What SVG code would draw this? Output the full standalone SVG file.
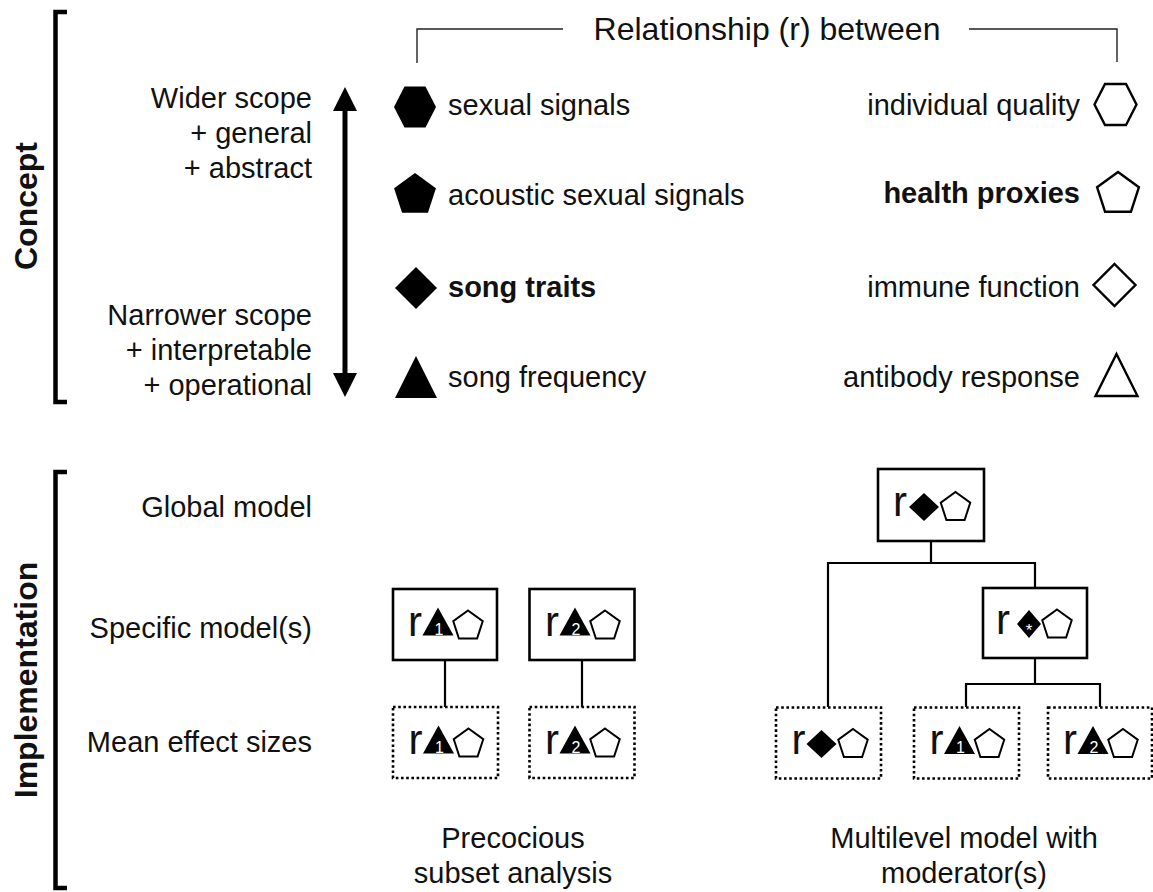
<svg xmlns="http://www.w3.org/2000/svg" xmlns:xlink="http://www.w3.org/1999/xlink" width="1153" height="892" viewBox="0 0 1153 892">
<style>
.t{font-family:"Liberation Sans",Arial,sans-serif;font-size:29px;fill:#111}
.b{font-weight:bold}
.lbl{font-family:"Liberation Sans",Arial,sans-serif;font-size:32px;font-weight:bold;fill:#111}
.r{font-family:"Liberation Sans",Arial,sans-serif;font-size:42px;fill:#111}
.num{font-family:"Liberation Sans",Arial,sans-serif;font-size:16px;fill:#fff;text-anchor:middle}
.box{fill:#fff;stroke:#000;stroke-width:2.6}
.dot{fill:#fff;stroke:#000;stroke-width:2.6;stroke-dasharray:2.6 2.6}
.con{fill:none;stroke:#000;stroke-width:2.2}
.hdr{fill:none;stroke:#222;stroke-width:1.4}
.brk{fill:none;stroke:#000;stroke-width:4.5}
.fill{fill:#000}
.open{fill:#fff;stroke:#000;stroke-width:2.4;stroke-linejoin:miter}
.po{fill:#fff;stroke:#000;stroke-width:2}
</style>
<defs>
<polygon id="hexL" points="-21,0 -10.5,-20.5 10.5,-20.5 21,0 10.5,20.5 -10.5,20.5"/>
<polygon id="pentL" points="0,-22 20.92,-6.8 12.93,17.8 -12.93,17.8 -20.92,-6.8"/>
<polygon id="diaL" points="0,-21 21,0 0,21 -21,0"/>
<polygon id="triL" points="0,-21 21,21 -21,21"/>
<polygon id="pentS" points="0,-15.5 14.74,-4.79 9.11,12.54 -9.11,12.54 -14.74,-4.79"/>
<polygon id="triS" points="0,-14 15.5,14 -15.5,14"/>
<polygon id="diaS" points="0,-14 15,0 0,14 -15,0"/>
<polygon id="diaM" points="0,-14 12,0 0,14 -12,0"/>
</defs>

<g id="concept-bracket">
<path class="brk" d="M67,12 H55.5 V402 H67"/>
<text class="lbl" transform="translate(37,206) rotate(-90)" text-anchor="middle">Concept</text>
</g>

<g id="implementation-bracket">
<path class="brk" d="M67,472 H55.5 V888 H67"/>
<text class="lbl" transform="translate(37,680) rotate(-90)" text-anchor="middle">Implementation</text>
</g>

<g id="scope-labels" class="t" text-anchor="end">
<text x="312" y="108">Wider scope</text>
<text x="312" y="143">+ general</text>
<text x="312" y="178">+ abstract</text>
<text x="312" y="325">Narrower scope</text>
<text x="312" y="360">+ interpretable</text>
<text x="312" y="395">+ operational</text>
</g>

<g id="scope-arrow">
<rect x="342.5" y="106" width="5" height="270" fill="#000"/>
<polygon points="345,87 357,111 333,111" fill="#000"/>
<polygon points="345,397 357,373 333,373" fill="#000"/>
</g>

<g id="header">
<polyline class="hdr" points="417,63 417,29 563,29"/>
<polyline class="hdr" points="969,29 1117,29 1117,62"/>
<text class="t" x="767" y="40" text-anchor="middle" style="font-size:32px">Relationship (r) between</text>
</g>

<g id="signals">
<g id="sexual-signals"><use xlink:href="#hexL" class="fill" x="415" y="107"/><text class="t" x="448" y="115">sexual signals</text></g>
<g id="acoustic-sexual-signals"><use xlink:href="#pentL" class="fill" x="415" y="195"/><text class="t" x="448" y="205">acoustic sexual signals</text></g>
<g id="song-traits"><use xlink:href="#diaL" class="fill" x="416" y="288"/><text class="t b" x="448" y="297">song traits</text></g>
<g id="song-frequency"><use xlink:href="#triL" class="fill" x="416" y="377"/><text class="t" x="448" y="387">song frequency</text></g>
</g>

<g id="quality">
<g id="individual-quality"><use xlink:href="#hexL" class="open" x="1115.5" y="104.5"/><text class="t" x="1080" y="115" text-anchor="end">individual quality</text></g>
<g id="health-proxies"><use xlink:href="#pentL" class="open" x="1118" y="194"/><text class="t b" x="1080" y="203" text-anchor="end">health proxies</text></g>
<g id="immune-function"><use xlink:href="#diaL" class="open" x="1114.5" y="285"/><text class="t" x="1080" y="297" text-anchor="end">immune function</text></g>
<g id="antibody-response"><use xlink:href="#triL" class="open" x="1116.5" y="375"/><text class="t" x="1080" y="387" text-anchor="end">antibody response</text></g>
</g>

<g id="level-labels" class="t" text-anchor="end">
<text x="312" y="517">Global model</text>
<text x="312" y="638">Specific model(s)</text>
<text x="312" y="752">Mean effect sizes</text>
</g>

<g id="connectors">
<line class="con" x1="445" y1="660" x2="445" y2="707"/>
<line class="con" x1="582" y1="660" x2="582" y2="707"/>
<polyline class="con" points="931,541 931,563"/>
<polyline class="con" points="828,707 828,563 1035,563 1035,588"/>
<polyline class="con" points="1035,658 1035,684"/>
<polyline class="con" points="966,707 966,684 1100,684 1100,707"/>
</g>

<g id="specific-1" transform="translate(445,624.5)">
<rect class="box" x="-52" y="-35.5" width="104" height="71"/>
<text class="r" x="-37" y="11">r</text>
<use xlink:href="#triS" class="fill" x="-7" y="-3"/>
<text class="num" x="-6" y="10">1</text>
<use xlink:href="#pentS" class="po" x="23" y="1.5"/>
</g>

<g id="specific-2" transform="translate(582,624.5)">
<rect class="box" x="-52.5" y="-35.5" width="105" height="71"/>
<text class="r" x="-37" y="11">r</text>
<use xlink:href="#triS" class="fill" x="-7" y="-3"/>
<text class="num" x="-6" y="10">2</text>
<use xlink:href="#pentS" class="po" x="23" y="1.5"/>
</g>

<g id="mean-1" transform="translate(445.5,742.5)">
<rect class="dot" x="-52.5" y="-35.5" width="105" height="71"/>
<text class="r" x="-37" y="11">r</text>
<use xlink:href="#triS" class="fill" x="-7" y="-3"/>
<text class="num" x="-6" y="10">1</text>
<use xlink:href="#pentS" class="po" x="23" y="1.5"/>
</g>

<g id="mean-2" transform="translate(582,742.5)">
<rect class="dot" x="-52.5" y="-35.5" width="105" height="71"/>
<text class="r" x="-37" y="11">r</text>
<use xlink:href="#triS" class="fill" x="-7" y="-3"/>
<text class="num" x="-6" y="10">2</text>
<use xlink:href="#pentS" class="po" x="23" y="1.5"/>
</g>

<g id="global" transform="translate(931,505)">
<rect class="box" x="-53" y="-36" width="106" height="72"/>
<text class="r" x="-38" y="11">r</text>
<use xlink:href="#diaS" class="fill" x="-7" y="2"/>
<use xlink:href="#pentS" class="po" x="24.5" y="2.5"/>
</g>

<g id="moderator" transform="translate(1035,623)">
<rect class="box" x="-52" y="-35" width="104" height="70"/>
<text class="r" x="-39" y="11">r</text>
<use xlink:href="#diaM" class="fill" x="-6" y="1"/>
<text class="num" x="-6" y="13" style="font-size:17px">*</text>
<use xlink:href="#pentS" class="po" x="22" y="2"/>
</g>

<g id="mean-global" transform="translate(828.5,743)">
<rect class="dot" x="-52.5" y="-35.5" width="105" height="71"/>
<text class="r" x="-37" y="11">r</text>
<use xlink:href="#diaS" class="fill" x="-7" y="1"/>
<use xlink:href="#pentS" class="po" x="24.5" y="1.5"/>
</g>

<g id="mean-m1" transform="translate(966.5,743)">
<rect class="dot" x="-52.5" y="-35.5" width="105" height="71"/>
<text class="r" x="-37" y="11">r</text>
<use xlink:href="#triS" class="fill" x="-7" y="-3"/>
<text class="num" x="-6" y="10">1</text>
<use xlink:href="#pentS" class="po" x="23" y="1.5"/>
</g>

<g id="mean-m2" transform="translate(1100,743)">
<rect class="dot" x="-52" y="-35.5" width="104" height="71"/>
<text class="r" x="-37" y="11">r</text>
<use xlink:href="#triS" class="fill" x="-7" y="-3"/>
<text class="num" x="-6" y="10">2</text>
<use xlink:href="#pentS" class="po" x="23" y="1.5"/>
</g>

<g id="captions" class="t" text-anchor="middle">
<text x="513" y="848">Precocious</text>
<text x="513" y="883">subset analysis</text>
<text x="964" y="848">Multilevel model with</text>
<text x="964" y="883">moderator(s)</text>
</g>
</svg>
